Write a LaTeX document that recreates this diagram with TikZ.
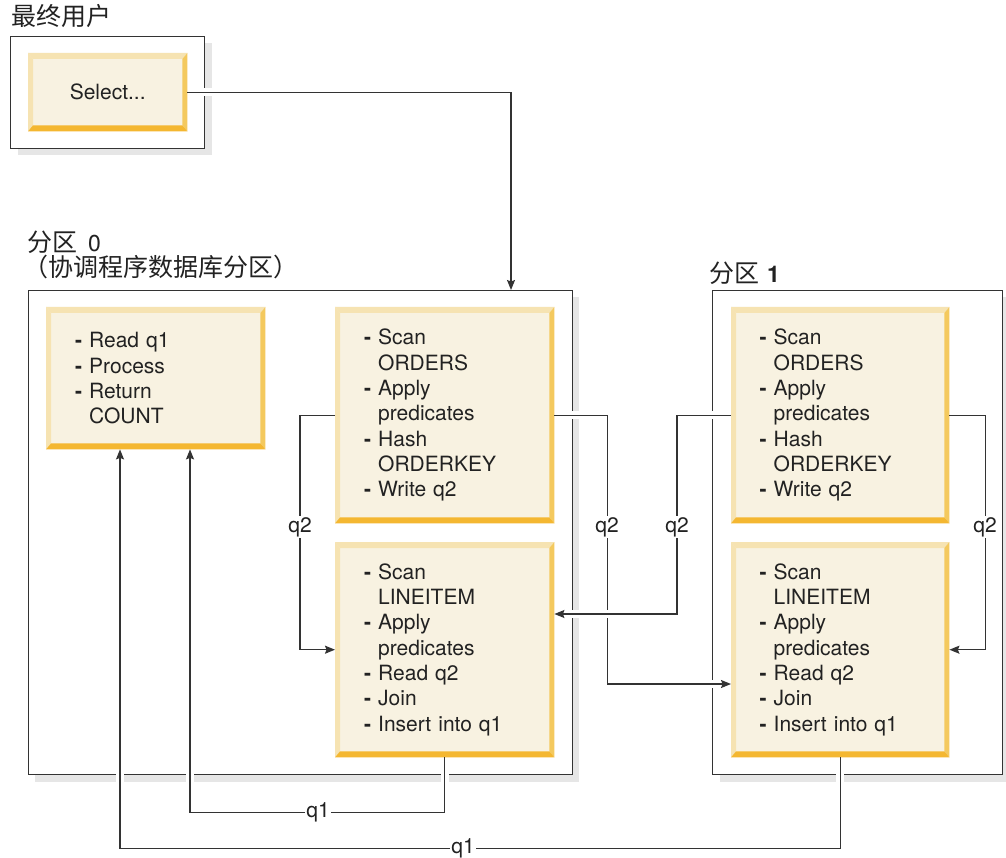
\documentclass[tikz,border=0pt]{standalone}
\usepackage{fontspec}
\setmainfont{TeX Gyre Heros}
\newfontfamily\cjk{Noto Sans CJK SC}
\usetikzlibrary{arrows.meta,calc}
\definecolor{cream}{HTML}{F8F2E1}
\definecolor{bevlight}{HTML}{F6E3B2}
\definecolor{bevright}{HTML}{F4C95E}
\definecolor{bevbot}{HTML}{F4B731}
\definecolor{ln}{HTML}{333333}
\definecolor{shadowc}{HTML}{E6E6E6}
\definecolor{txt}{HTML}{222222}
\newcommand{\dsh}{\textbf{-} }
\newcommand{\ind}{\phantom{\textbf{-} }}
\begin{document}
\begin{tikzpicture}[x=1pt,y=-1pt,
  frame/.style={draw=ln, line width=1.4pt, fill=white, inner sep=0pt, anchor=north west},
  shadowbox/.style={fill=shadowc, draw=none},
  bevbox/.style={fill=cream, inner xsep=29pt, inner ysep=0pt, anchor=north west, align=left,
    font=\fontsize{21}{25.3}\selectfont, text=txt},
  conn/.style={draw=ln, line width=1.3pt, -{Stealth[length=10pt,width=8pt,inset=1.5pt]},
    preaction={draw=white, line width=8pt, -, shorten <=3pt, shorten >=3pt}},
  lbl/.style={fill=white, inner sep=1.5pt, font=\fontsize{21}{21}\selectfont, text=txt},
  cjklbl/.style={anchor=base west, inner sep=0pt, font=\cjk\fontsize{25}{25}\selectfont, text=txt}
]
\useasboundingbox (0,0) rectangle (1006,858);

% shadows
\fill[shadowc] (18,43) rectangle (212,155);
\fill[shadowc] (35,297) rectangle (579,782);
\fill[shadowc] (720,297) rectangle (1010,782);

% frames
\node[frame, minimum width=194pt, minimum height=112pt] (eu) at (10,36) {};
\node[frame, minimum width=544pt, minimum height=484pt] (p0) at (28,290) {};
\node[frame, minimum width=290pt, minimum height=484pt] (p1) at (712,290) {};

% frame labels
\node[cjklbl] (leu) at (11,26) {最终用户};
\node[cjklbl] (lp0a) at (27,252) {分区\hspace{11pt}{\fontsize{23}{23}\selectfont\fontspec{TeX Gyre Heros}0}};
\node[cjklbl] (lp0b) at (23,277) {（协调程序数据库分区）};
\node[cjklbl] (lp1) at (709,283) {分区\hspace{8pt}{\fontsize{23}{23}\selectfont\fontspec{TeX Gyre Heros}\bfseries 1}};

% boxes
\node[bevbox, inner xsep=0pt, align=center, text width=159pt, minimum height=78pt] (sel) at (28,53) {Select...};
\node[bevbox, text width=161pt, minimum height=142pt] (A) at (46,307)
  {\dsh Read q1\\ \dsh Process\\ \dsh Return\\ \ind COUNT};
\node[bevbox, text width=161pt, minimum height=216pt] (B) at (335,307)
  {\dsh Scan\\ \ind ORDERS\\ \dsh Apply\\ \ind predicates\\ \dsh Hash\\ \ind ORDERKEY\\ \dsh Write q2};
\node[bevbox, text width=161pt, minimum height=215pt] (C) at (335,542)
  {\dsh Scan\\ \ind LINEITEM\\ \dsh Apply\\ \ind predicates\\ \dsh Read q2\\ \dsh Join\\ \dsh Insert into q1};
\node[bevbox, text width=161pt, inner xsep=28.5pt, minimum height=216pt] (D) at (731,307)
  {\dsh Scan\\ \ind ORDERS\\ \dsh Apply\\ \ind predicates\\ \dsh Hash\\ \ind ORDERKEY\\ \dsh Write q2};
\node[bevbox, text width=161pt, inner xsep=28.5pt, minimum height=215pt] (E) at (731,542)
  {\dsh Scan\\ \ind LINEITEM\\ \dsh Apply\\ \ind predicates\\ \dsh Read q2\\ \dsh Join\\ \dsh Insert into q1};

% bevels
\foreach \n in {sel,A,B,C,D,E}{
  \fill[bevlight] (\n.north west) -- (\n.north east) -- ($(\n.north east)+(-5,6)$) -- ($(\n.north west)+(5,6)$) -- cycle;
  \fill[bevlight] (\n.north west) -- (\n.south west) -- ($(\n.south west)+(5,-6)$) -- ($(\n.north west)+(5,6)$) -- cycle;
  \fill[bevright] (\n.north east) -- (\n.south east) -- ($(\n.south east)+(-5,-6)$) -- ($(\n.north east)+(-5,6)$) -- cycle;
  \fill[bevbot] (\n.south west) -- (\n.south east) -- ($(\n.south east)+(-5,-6)$) -- ($(\n.south west)+(5,-6)$) -- cycle;
}

% connectors
\draw[conn] (sel.east) -| ($(p0.north west)+(483,0)$);
\draw[conn] (B.west) -- ++(-35,0) |- (C.west);
\draw[conn] (B.east) -- ++(53,0) |- ($(E.north west)+(0,142)$);
\draw[conn] (D.west) -- ++(-54,0) |- ($(C.north east)+(0,72)$);
\draw[conn] (D.east) -- ++(36,0) |- (E.east);
\draw[conn] (C.south) -- ++(0,55) -| ($(A.south west)+(144,0)$);
\draw[conn] (E.south) -- ++(0,91) -| ($(A.south west)+(74,0)$);

% connector labels
\node[lbl] (q2a) at (300,527) {q2};
\node[lbl] (q2b) at (607,527) {q2};
\node[lbl] (q2c) at (677,527) {q2};
\node[lbl] (q2d) at (985,527) {q2};
\node[lbl] (q1a) at (318,812) {q1};
\node[lbl] (q1b) at (463,848) {q1};
\end{tikzpicture}
\end{document}
